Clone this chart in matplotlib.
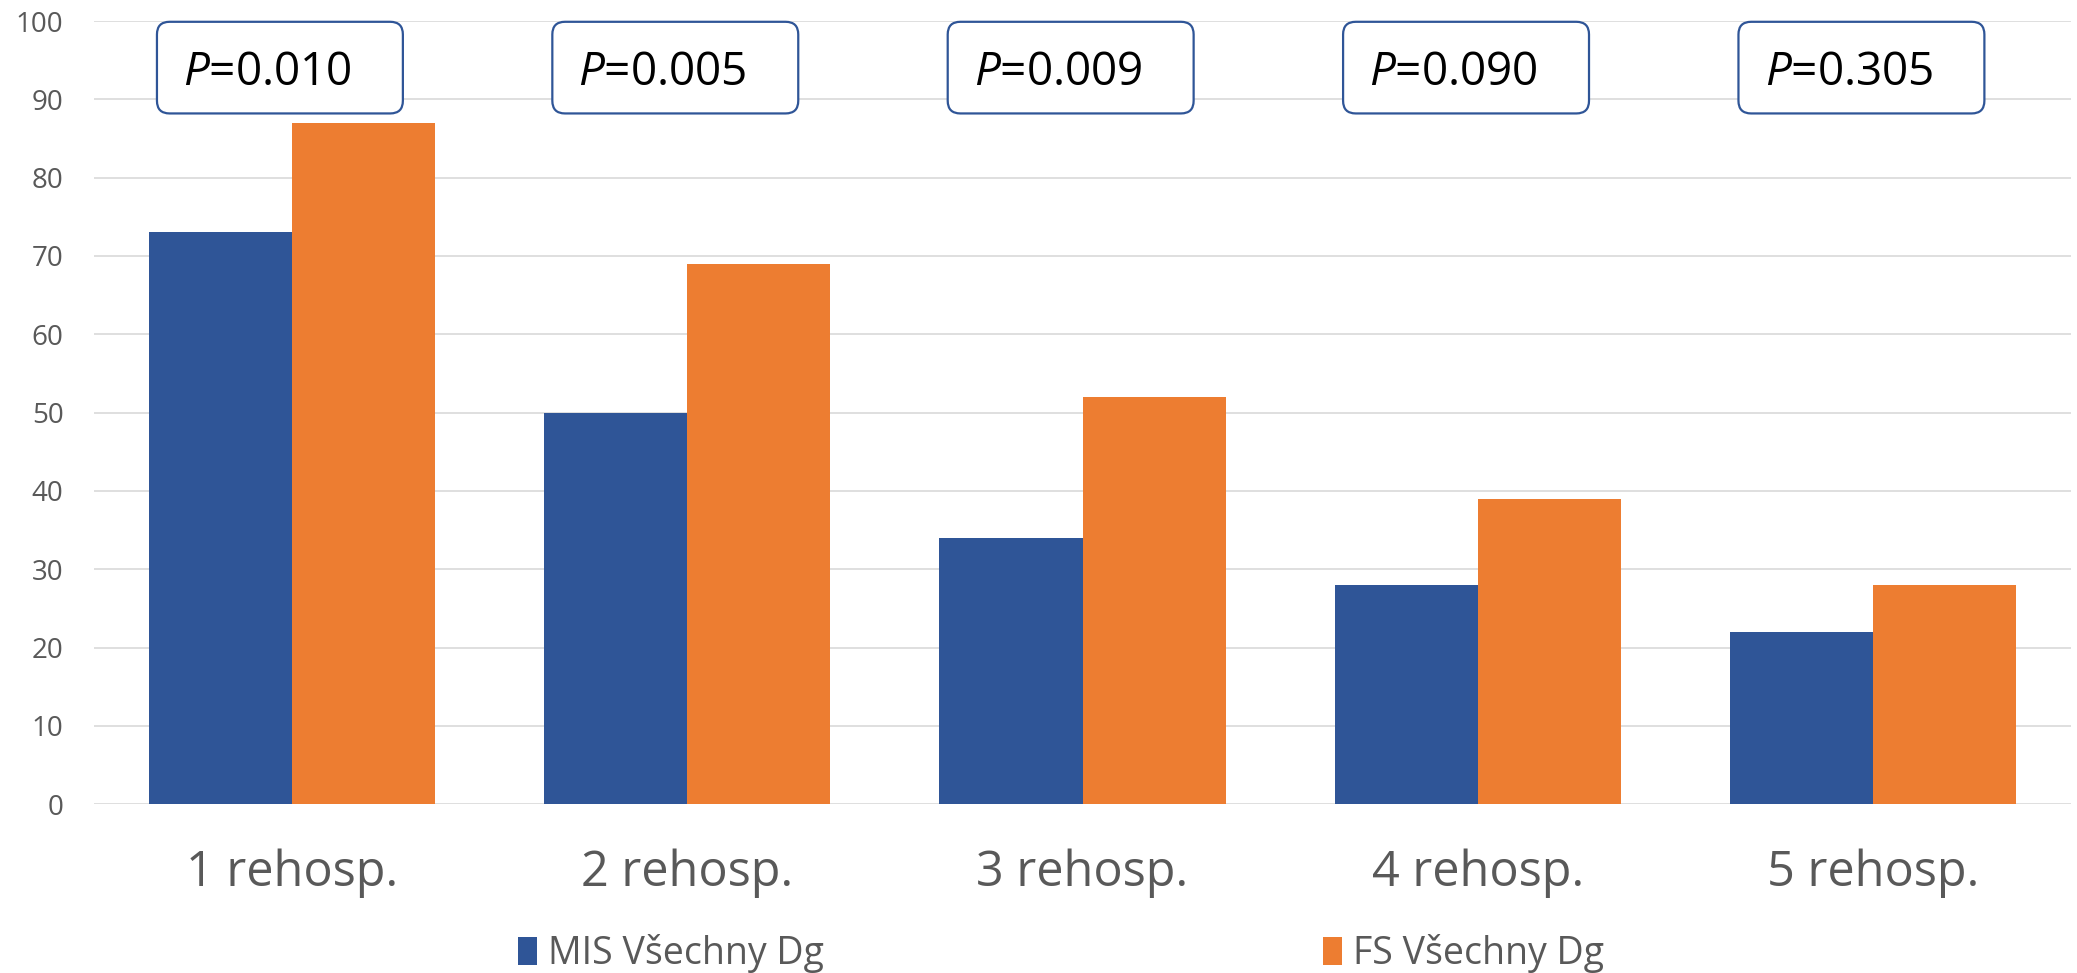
import numpy as np
import matplotlib
matplotlib.use('Agg')
import matplotlib.pyplot as plt
from matplotlib.patches import FancyBboxPatch

plt.rcParams['font.family'] = ['Open Sans', 'DejaVu Sans']
plt.rcParams['mathtext.fontset'] = 'custom'
plt.rcParams['mathtext.it'] = 'Open Sans:italic'
plt.rcParams['mathtext.rm'] = 'Open Sans'

kategorie = ['1 rehosp.', '2 rehosp.', '3 rehosp.', '4 rehosp.', '5 rehosp.']
mis_hodnoty = [73, 50, 34, 28, 22]
fs_hodnoty = [87, 69, 52, 39, 28]
p_hodnoty = ['0.010', '0.005', '0.009', '0.090', '0.305']
y_ticks = list(range(0, 101, 10))

modra = '#2f5597'
oranzova = '#ed7d31'
seda = '#595959'

fig = plt.figure(figsize=(20.77, 9.73), dpi=100)
ax = fig.add_axes([0.0453, 0.1734, 0.9518, 0.805])

x = np.arange(len(kategorie))
sirka = 0.362
ax.bar(x - sirka / 2, mis_hodnoty, sirka, color=modra, label='MIS Všechny Dg', zorder=3)
ax.bar(x + sirka / 2, fs_hodnoty, sirka, color=oranzova, label='FS Všechny Dg', zorder=3)

ax.set_xlim(-0.5, len(kategorie) - 0.5)
ax.set_ylim(0, 100)
ax.set_yticks(y_ticks)
ax.set_yticklabels([str(v) for v in y_ticks], fontsize=20, color=seda)
ax.set_xticks(x)
ax.set_xticklabels(kategorie, fontsize=35, color=seda)
ax.tick_params(axis='y', length=0, pad=22)
ax.tick_params(axis='x', length=0, pad=32)
ax.grid(axis='y', color='#d9d9d9', linewidth=1.2, zorder=0)
for s in ax.spines.values():
    s.set_visible(False)

# P boxes
aspect = (1 / 7.83) / (1 / 395.4)
for i, p in enumerate(p_hodnoty):
    box = FancyBboxPatch((i - 0.341, 88.2), 0.622, 11.7,
                         boxstyle='round,pad=0,rounding_size=0.032',
                         mutation_aspect=aspect, facecolor='white',
                         edgecolor=modra, linewidth=1.6, zorder=4, clip_on=False)
    ax.add_patch(box)
    ax.text(i - 0.275, 93.3, r'$P$=' + p, fontsize=33, color='black',
            ha='left', va='center', zorder=5)

fig.legend(loc='center', bbox_to_anchor=(0.511, 0.02), ncol=2, frameon=False,
           fontsize=27, labelcolor=seda, handlelength=0.5, handleheight=0.75,
           handletextpad=0.3, columnspacing=13.3)

plt.savefig('out.png', dpi=100)
